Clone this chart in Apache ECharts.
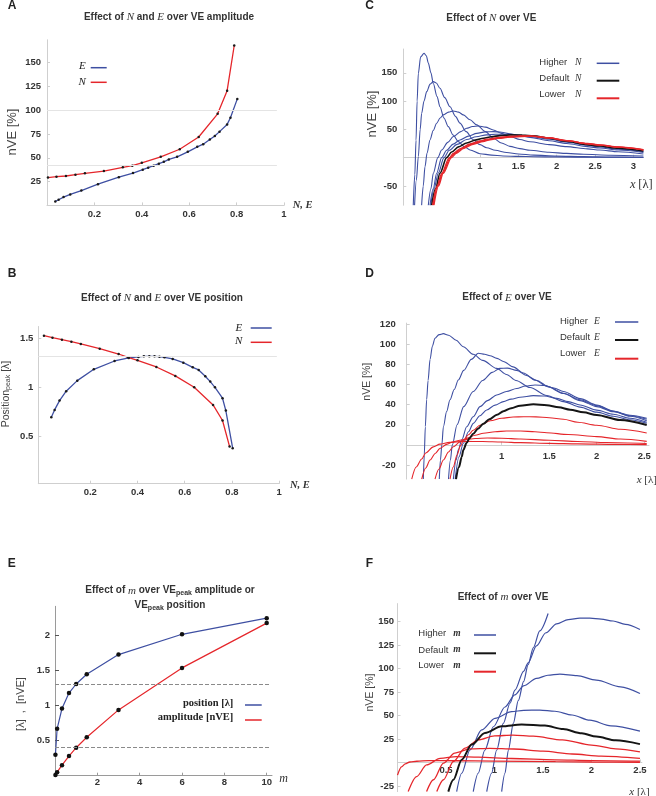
<!DOCTYPE html>
<html><head><meta charset="utf-8">
<script src="https://cdn.jsdelivr.net/npm/echarts@6/dist/echarts.min.js"></script>
<style>html,body{margin:0;padding:0;background:#fff}#c{width:656px;height:796px}</style>
</head><body><div id="c"></div>
<script>
// ===== Panel A / B data (N and E sweeps) =====
const nValues    = [0.004,0.04,0.08,0.12,0.16,0.24,0.32,0.36,0.40,0.48,0.56,0.64,0.72,0.76,0.79];
const nAmplitude = [29.2,30.2,30.9,32.3,33.7,36.1,40,41.7,44.8,51,59,71.9,96.2,120.5,168];
const nPosition  = [1.526,1.506,1.486,1.465,1.442,1.394,1.340,1.306,1.276,1.208,1.117,1.001,0.822,0.663,0.398];
const eValues    = [0.035,0.049,0.07,0.098,0.145,0.215,0.303,0.363,0.404,0.427,0.45,0.472,0.493,0.514,0.549,0.594,0.634,0.659,0.687,0.708,0.728,0.760,0.774,0.803];
const eAmplitude = [4.2,5.9,8.7,11.5,15.6,22.3,29.6,34,37.5,39.6,41.7,43.8,45.8,48.3,51,56.3,61.5,64.3,69.2,72.9,77.5,85.1,92.1,111.9];
const ePosition  = [0.696,0.771,0.866,0.961,1.069,1.184,1.269,1.300,1.310,1.316,1.316,1.316,1.313,1.306,1.290,1.252,1.204,1.178,1.113,1.059,1.001,0.890,0.764,0.381];
const aRefLines  = [100, 41.7];
const bRefLines  = [1.32];

// ===== Panel E data (m sweep) =====
const mValues    = [0.02,0.1,0.33,0.66,1,1.5,3,6,10];
const mPosition  = [0.30,0.67,0.96,1.18,1.31,1.45,1.73,2.02,2.25];
const mAmplitude = [0.01,0.05,0.15,0.28,0.40,0.55,0.94,1.54,2.18];
const eRefLines  = [1.31, 0.40];

// ===== Panel C curves (effect of N) =====
const cHigher = [
 [[0.13,-84],[0.15,-30],[0.166,31],[0.18,100],[0.196,149],[0.226,178],[0.27,184.4],[0.3,180],[0.326,167],[0.36,150],[0.391,131],[0.44,108],[0.478,90],[0.53,70],[0.587,54.8],[0.65,40],[0.717,28.3],[0.8,19],[0.87,13.6],[1.0,7],[1.15,4.5],[1.3,3],[1.5,2.2],[1.7,1.7],[2.0,1.2],[2.5,0.7],[3.13,0.4]],
 [[0.147,-84],[0.17,-40],[0.196,2],[0.22,50],[0.239,78],[0.27,100],[0.305,116.6],[0.35,130],[0.391,134.3],[0.43,132],[0.478,122.6],[0.54,106],[0.609,90],[0.68,73],[0.739,61],[0.82,46],[0.913,31.4],[1.0,23],[1.087,17.5],[1.2,13],[1.348,9],[1.5,6.5],[1.7,4.5],[2.0,2.8],[2.35,1.8],[2.7,1],[3.13,0.6]],
 [[0.239,-84],[0.26,-50],[0.283,-15.9],[0.31,8],[0.348,31.3],[0.39,48],[0.435,60.9],[0.48,70],[0.522,75.6],[0.59,80.5],[0.652,82.5],[0.72,80.5],[0.783,75.6],[0.87,67],[0.957,58],[1.07,46],[1.174,34.4],[1.28,26],[1.39,20],[1.52,16],[1.652,13],[1.9,9.5],[2.13,7.5],[2.35,6],[2.7,4.3],[3.13,3]],
 [[0.326,-84],[0.36,-55],[0.391,-27.6],[0.45,0],[0.5,13.6],[0.58,27],[0.652,37.3],[0.75,46],[0.826,52],[0.9,55],[0.978,56],[1.07,54],[1.174,49],[1.28,43],[1.39,37.3],[1.52,32],[1.652,28],[1.9,23],[2.13,19.5],[2.4,15.5],[2.56,13.5],[2.8,10.5],[3.13,6.5]],
 [[0.348,-84],[0.39,-55],[0.435,-27.6],[0.5,0],[0.565,13],[0.65,24],[0.739,31.3],[0.85,38],[0.957,43],[1.07,45.5],[1.174,46],[1.28,45],[1.39,42],[1.52,39],[1.652,35.9],[1.9,30],[2.13,25],[2.4,19.5],[2.56,17],[2.8,13.5],[3.13,9.4]],
 [[0.358,-84],[0.4,-55],[0.457,-27],[0.53,0],[0.6,13],[0.7,23.5],[0.826,32],[0.95,37],[1.087,40.2],[1.2,41.3],[1.348,41.3],[1.5,40],[1.652,37.5],[1.9,32.5],[2.13,27.5],[2.4,22],[2.56,18.8],[2.8,15],[3.13,10.6]]
];
const cDefault = [[0.37,-84],[0.42,-55],[0.478,-27.6],[0.565,0],[0.63,10],[0.72,19],[0.826,26],[0.95,31.5],[1.043,34.4],[1.15,37],[1.26,39],[1.4,40.2],[1.55,40],[1.7,38.5],[1.9,34.5],[2.13,29],[2.4,23],[2.56,20.5],[2.8,16.5],[3.13,11.8]];
const cLower = [
 [[0.383,-84],[0.44,-50],[0.5,-27.6],[0.6,0],[0.652,7.7],[0.75,16.5],[0.87,24.3],[1.0,29.5],[1.087,32.6],[1.2,35],[1.348,37.3],[1.5,38.3],[1.652,38.4],[1.9,35],[2.13,30],[2.4,24.5],[2.56,22],[2.8,18.5],[3.13,13.6]],
 [[0.39,-84],[0.45,-50],[0.51,-27.6],[0.615,0],[0.67,7.7],[0.77,16.5],[0.89,24],[1.02,29],[1.11,32],[1.22,34.5],[1.37,36.8],[1.52,37.8],[1.67,38],[1.9,35],[2.13,30],[2.4,24.7],[2.56,22.2],[2.8,18.7],[3.13,13.9]],
 [[0.4,-84],[0.46,-50],[0.52,-27.6],[0.63,0],[0.69,7.7],[0.79,16.5],[0.91,23.7],[1.04,28.5],[1.13,31.5],[1.24,34],[1.39,36.3],[1.54,37.3],[1.69,37.6],[1.9,35],[2.13,30.2],[2.4,25],[2.56,22.5],[2.8,19],[3.13,14.2]]
];

// ===== Panel D curves (effect of E) =====
const dHigher = [
 [[0.175,-34],[0.185,-10],[0.196,18],[0.21,45],[0.225,64],[0.246,85],[0.27,98],[0.298,106],[0.34,109.5],[0.386,110.5],[0.44,109],[0.52,104],[0.596,97.5],[0.7,90],[0.8,84],[0.947,76],[1.05,70],[1.15,64],[1.298,57],[1.474,49],[1.649,43],[1.825,37.5],[2.0,32.5],[2.175,28.5],[2.35,25],[2.526,21.5]],
 [[0.343,-34],[0.355,-15],[0.37,0],[0.386,18],[0.42,33],[0.456,44.8],[0.5,55],[0.543,64.4],[0.6,74],[0.68,85],[0.754,91],[0.82,90],[0.877,88.5],[0.95,86],[1.018,82.9],[1.12,77.5],[1.228,71.4],[1.35,64.5],[1.474,58.2],[1.65,51],[1.825,44.9],[2.0,39],[2.175,33.4],[2.35,29.5],[2.526,26.5]],
 [[0.44,-34],[0.46,-15],[0.48,0],[0.53,20],[0.6,38],[0.7,53],[0.8,64],[0.9,72],[0.98,76],[1.06,76.3],[1.158,74],[1.26,69],[1.368,64],[1.5,57.5],[1.649,51.3],[1.825,44],[2.0,38],[2.175,33],[2.35,29],[2.526,25.5]],
 [[0.491,-34],[0.52,-15],[0.543,-5],[0.58,5],[0.631,18],[0.7,28],[0.772,38],[0.85,44],[0.947,49.6],[1.05,53],[1.158,56],[1.25,58.5],[1.35,59.5],[1.45,59],[1.55,56.5],[1.649,53],[1.825,46],[2.0,39.6],[2.175,33.5],[2.35,28.5],[2.526,24]],
 [[0.51,-34],[0.55,-12],[0.596,1.6],[0.65,13],[0.701,21.4],[0.77,29],[0.842,34.7],[0.93,39.5],[1.018,43],[1.1,45.5],[1.193,47.3],[1.333,48.9],[1.45,48.5],[1.58,46.2],[1.7,43],[1.825,39.6],[2.0,34.5],[2.175,30.5],[2.35,26.5],[2.526,22.5]]
];
const dDefault = [[0.519,-34],[0.55,-22],[0.579,-12],[0.596,-5],[0.631,2],[0.66,6.5],[0.7,11],[0.75,16],[0.807,21],[0.87,25.5],[0.95,30],[1.018,33.5],[1.1,36.5],[1.193,39],[1.333,40.3],[1.474,39.5],[1.6,37.3],[1.72,35],[1.86,32.3],[2.0,29.7],[2.246,24.7],[2.526,19.7]];
const dLower = [
 [[0.456,-34],[0.49,-22],[0.53,-10],[0.565,-1],[0.6,5],[0.65,10],[0.7,14.5],[0.77,19.5],[0.88,24],[1.0,26.5],[1.12,27.7],[1.23,28],[1.36,27.8],[1.5,27],[1.65,25.5],[1.8,22.5],[2.0,19.5],[2.25,15.5],[2.526,11.8]],
 [[0.298,-34],[0.34,-24],[0.386,-15],[0.44,-7],[0.491,-1.8],[0.56,3],[0.631,6.5],[0.72,9.5],[0.807,11.5],[0.93,13],[1.05,13.8],[1.2,13.8],[1.35,13],[1.474,12.1],[1.7,10.3],[2.0,8.2],[2.25,5.8],[2.526,3.5]],
 [[0.158,-34],[0.2,-23],[0.246,-15],[0.3,-8.5],[0.351,-3.5],[0.42,0.5],[0.491,3.1],[0.56,4.6],[0.631,5.5],[0.72,6.3],[0.85,6.8],[1.0,6.6],[1.2,5.8],[1.5,4.6],[1.8,3.3],[2.1,2.3],[2.526,1.3]],
 [[0.053,-34],[0.1,-22],[0.158,-14],[0.2,-8],[0.28,-2],[0.35,0.8],[0.45,2.5],[0.6,3.5],[0.8,3.3],[1.0,2.8],[1.2,2.2],[1.5,1.5],[1.8,1],[2.2,0.5],[2.526,0.3]]
];

// ===== Panel F curves (effect of m) =====
const fHigher = [
 [[1.074,-31],[1.108,-11.5],[1.143,13],[1.194,41.6],[1.246,66],[1.30,86],[1.347,104],[1.40,122],[1.467,140],[1.553,158.5]],
 [[0.92,-31],[0.97,-11.5],[1.022,13],[1.091,41.6],[1.16,63],[1.211,77],[1.3,97],[1.347,106],[1.433,124],[1.53,138],[1.64,147.5],[1.76,152],[1.88,153.5],[1.983,153.5],[2.1,152.5],[2.223,150.5],[2.35,147],[2.5,141.5]],
 [[0.781,-31],[0.832,-11.5],[0.9,13],[0.988,38],[1.108,59],[1.21,72],[1.3,81.5],[1.433,89.4],[1.55,92.8],[1.674,94],[1.85,92.3],[2.05,87.6],[2.3,80.5],[2.5,73.4]],
 [[0.61,-31],[0.662,-11.5],[0.747,13.3],[0.868,34.6],[1.005,47],[1.177,54],[1.3,55.5],[1.467,55.7],[1.623,54.5],[1.8,50.5],[1.983,45],[2.2,39],[2.5,33.3]]
];
const fDefault = [[0.524,-31],[0.576,-18.4],[0.662,3],[0.765,19],[0.902,31.4],[1.074,38.5],[1.28,40.3],[1.52,39.2],[1.708,35.5],[1.9,31],[2.05,27.5],[2.25,23.5],[2.5,19.5]];
const fLower = [
 [[0.405,-31],[0.474,-18.4],[0.576,1],[0.696,15.3],[0.834,24],[1.0,28.3],[1.19,29.1],[1.4,28],[1.7,24],[2.0,18.5],[2.25,14.5],[2.5,11.3]],
 [[0.3,-31],[0.37,-18.4],[0.474,-0.7],[0.59,10],[0.747,14.5],[0.952,15],[1.2,14.3],[1.5,12],[1.8,9],[2.1,6.7],[2.5,4.3]],
 [[0.11,-31],[0.197,-15],[0.3,-2.6],[0.44,4.4],[0.61,6.2],[0.834,5.6],[1.177,4.2],[1.623,2.8],[2.0,2],[2.5,1.4]],
 [[0,-13.5],[0.041,-4.6],[0.08,-1.5],[0.127,0.5],[0.2,1.3],[0.318,1.9],[0.6,1.8],[1.0,1.4],[1.63,0.8],[2.0,0.5],[2.5,0.2]]
];

// ===== tick labels =====
const aXTicks=[0.2,0.4,0.6,0.8,1], aYTicks=[25,50,75,100,125,150];
const bXTicks=[0.2,0.4,0.6,0.8,1], bYTicks=[0.5,1,1.5];
const cXTicks=[1,1.5,2,2.5,3],     cYTicks=[-50,50,100,150];
const dXTicks=[1,1.5,2,2.5],       dYTicks=[-20,20,40,60,80,100,120];
const eXTicks=[2,4,6,8,10],        eYTicks=[0.5,1,1.5,2];
const fXTicks=[0.5,1,1.5,2,2.5],   fYTicks=[-25,25,50,75,100,125,150];

// ===== styling / layout =====
const SANS='"Liberation Sans", Arial, sans-serif';
const SERIF='"Liberation Serif", "Times New Roman", serif';
const BLUE='#3e4fa2', RED='#e5262b', BLACK='#151515';
const grids=[
 {left:47,   top:39.8,  width:237,   height:165.6},
 {left:38.3, top:326.5, width:240.9, height:157.2},
 {left:403.3,top:49.0,  width:240.1, height:156.2},
 {left:406.7,top:323.1, width:242.3, height:156},
 {left:55,   top:606.3, width:217,   height:169.4},
 {left:397.5,top:603.6, width:244.4, height:188}
];
const ranges=[
 {x:[0,1],y:[0,174],xm:3.5,ym:6},
 {x:[-0.02,1],y:[0.02,1.62],xm:3.5,ym:5},
 {x:[0,3.13],y:[-84,192],xm:3.5,ym:6},
 {x:[0,2.55],y:[-34,121],xm:6,ym:11},
 {x:[0,10.25],y:[0,2.42],xm:2,ym:5},
 {x:[0,2.52],y:[-31,169],xm:3,ym:3.5}
];
const xt=[aXTicks,bXTicks,cXTicks,dXTicks,eXTicks,fXTicks];
const yt=[aYTicks,bYTicks,cYTicks,dYTicks,eYTicks,fYTicks];
const axisCol=(i)=> i===4 ? '#9a9a9a' : '#cfcfcf';
const lab=(m,vals)=>({customValues:vals,margin:m,fontSize:9.5,fontWeight:'bold',color:'#333',fontFamily:SANS});
// x axis sits on y = 0 when the y range is negative at the bottom
const xAxes=ranges.map((r,i)=>{
  const off = r.y[0] < 0 ? -grids[i].height * (0 - r.y[0]) / (r.y[1] - r.y[0]) : 0;
  return {type:'value',gridIndex:i,min:r.x[0],max:r.x[1],position:'bottom',offset:off,
  axisLine:{show:true,onZero:false,lineStyle:{color:axisCol(i),width:1}},
  axisTick:{show:true,inside:true,length:3,customValues:xt[i],lineStyle:{color:axisCol(i)}},
  axisLabel:lab(r.xm,xt[i]),splitLine:{show:false}};
});
const yAxes=ranges.map((r,i)=>({type:'value',gridIndex:i,min:r.y[0],max:r.y[1],position:'left',
  axisLine:{show:true,onZero:false,lineStyle:{color:axisCol(i),width:1}},
  axisTick:{show:true,inside:true,length:i===4?4:3,customValues:yt[i],lineStyle:{color:i===4?'#555':axisCol(i)}},
  axisLabel:lab(r.ym,yt[i]),splitLine:{show:false}}));

function curve(gi,data,color,width,extra){
  return Object.assign({type:'line',xAxisIndex:gi,yAxisIndex:gi,data:data,showSymbol:false,symbol:'none',
    smooth:0.3,smoothMonotone:'x',lineStyle:{color:color,width:width},itemStyle:{color:color},silent:true,clip:true,z:2},extra||{});
}
function pts(gi,xs,ys,color,size,extra){
  return Object.assign({type:'line',xAxisIndex:gi,yAxisIndex:gi,data:xs.map((v,k)=>[v,ys[k]]),
    showSymbol:true,showAllSymbol:true,symbol:'circle',symbolSize:size,smooth:false,
    lineStyle:{color:color,width:1.3},itemStyle:{color:'#1a1a1a'},silent:true,z:3},extra||{});
}
function refSeries(gi,vals,x0,x1,col,type){
  return {type:'line',xAxisIndex:gi,yAxisIndex:gi,data:[],z:1,silent:true,
    markLine:{silent:true,symbol:'none',label:{show:false},lineStyle:{color:col,width:1,type:type},
      data:vals.map(v=>[{coord:[x0,v]},{coord:[x1,v]}])}};
}

const series=[];
series.push(refSeries(0,aRefLines,0,0.97,'#e4e4e4','solid'));
series.push(refSeries(1,bRefLines,-0.02,0.99,'#e4e4e4','solid'));
series.push(refSeries(4,eRefLines,0,10.2,'#8a8a8a','dashed'));
series.push(pts(0,eValues,eAmplitude,BLUE,2.5));
series.push(pts(0,nValues,nAmplitude,RED,2.5));
series.push(pts(1,eValues,ePosition,BLUE,2.5));
series.push(pts(1,nValues,nPosition,RED,2.5));
cHigher.forEach(d=>series.push(curve(2,d,BLUE,1.1)));
series.push(curve(2,cDefault,BLACK,1.6));
cLower.forEach(d=>series.push(curve(2,d,RED,1.3)));
dHigher.forEach(d=>series.push(curve(3,d,BLUE,1.1)));
dLower.forEach(d=>series.push(curve(3,d,RED,1.1)));
series.push(curve(3,dDefault,BLACK,2));
series.push(pts(4,mValues,mPosition,BLUE,4.5,{lineStyle:{color:BLUE,width:1.2},itemStyle:{color:'#111'}}));
series.push(pts(4,mValues,mAmplitude,RED,4.5,{lineStyle:{color:RED,width:1.2},itemStyle:{color:'#111'}}));
fHigher.forEach(d=>series.push(curve(5,d,BLUE,1.2)));
fLower.forEach(d=>series.push(curve(5,d,RED,1.3)));
series.push(curve(5,fDefault,BLACK,2));

// ===== text / legend graphics =====
function T(x,y,text,o){
  o=o||{};
  return {type:'text',x:x,y:y,rotation:o.rot||0,silent:true,z:10,
    style:{text:text,fill:o.fill||'#333',font:o.font||('bold 10px '+SANS),
      align:o.align||'left',textAlign:o.align||'left',verticalAlign:'middle',textVerticalAlign:'middle',rich:o.rich}};
}
function L(x1,x2,y,col,w){
  return {type:'line',silent:true,z:10,shape:{x1:x1,y1:y,x2:x2,y2:y},style:{stroke:col,lineWidth:w}};
}
const titleRich={b:{fontFamily:SANS,fontWeight:'bold',fontSize:10,fill:'#333'},
  i:{fontFamily:SERIF,fontStyle:'italic',fontSize:11,fill:'#333'},
  s:{fontFamily:SANS,fontWeight:'bold',fontSize:7,fill:'#333',verticalAlign:'bottom',padding:[5,0,0,0]}};
const g=[];
[['A',12,6],['C',369.7,6],['B',12,273.3],['D',369.5,273.3],['E',11.7,564],['F',369.3,564]]
  .forEach(p=>g.push(T(p[1],p[2],p[0],{font:'bold 12px '+SANS,fill:'#222',align:'center'})));
g.push(T(169,17.3,'{b|Effect of }{i|N}{b| and }{i|E}{b| over VE amplitude}',{align:'center',rich:titleRich}));
g.push(T(162,298.3,'{b|Effect of }{i|N}{b| and }{i|E}{b| over VE position}',{align:'center',rich:titleRich}));
g.push(T(491.3,18.3,'{b|Effect of }{i|N}{b| over VE}',{align:'center',rich:titleRich}));
g.push(T(507,297.7,'{b|Effect of }{i|E}{b| over VE}',{align:'center',rich:titleRich}));
g.push(T(170,590.7,'{b|Effect of }{i|m}{b| over VE}{s|peak}{b| amplitude or}',{align:'center',rich:titleRich}));
g.push(T(170,605.7,'{b|VE}{s|peak}{b| position}',{align:'center',rich:titleRich}));
g.push(T(503,597.3,'{b|Effect of }{i|m}{b| over VE}',{align:'center',rich:titleRich}));
const R90=Math.PI/2;
g.push(T(12,132,'nVE [%]',{rot:R90,align:'center',font:'13px '+SANS,fill:'#444'}));
g.push(T(372,114,'nVE [%]',{rot:R90,align:'center',font:'13px '+SANS,fill:'#444'}));
g.push(T(366.7,381.7,'nVE [%]',{rot:R90,align:'center',font:'10.5px '+SANS,fill:'#444'}));
g.push(T(370.5,692.5,'nVE [%]',{rot:R90,align:'center',font:'10.5px '+SANS,fill:'#444'}));
g.push(T(6,394,'{n|Position}{s|peak}{n| [λ]}',{rot:R90,align:'center',rich:{
  n:{fontFamily:SANS,fontSize:10.5,fill:'#444'},s:{fontFamily:SANS,fontSize:7,fill:'#444',verticalAlign:'bottom',padding:[5,0,0,0]}}}));
g.push(T(20.5,704,'[λ]  ,  [nVE]',{rot:R90,align:'center',font:'11px '+SANS,fill:'#444'}));
const xnRich={i:{fontFamily:SERIF,fontStyle:'italic',fontSize:11,fill:'#333'},n:{fontFamily:SERIF,fontSize:11,fill:'#333'}};
g.push(T(292.7,205,'N, E',{font:'italic bold 10.5px '+SERIF}));
g.push(T(290,485,'N, E',{font:'italic bold 10.5px '+SERIF}));
g.push(T(630,185,'{i|x} {n|[λ]}',{rich:{i:{fontFamily:SERIF,fontStyle:'italic',fontSize:12.5,fill:'#333'},n:{fontFamily:SERIF,fontSize:12.5,fill:'#333'}}}));
g.push(T(636.7,479.7,'{i|x} {n|[λ]}',{rich:xnRich}));
g.push(T(629.3,792,'{i|x} {n|[λ]}',{rich:xnRich}));
g.push(T(279.3,779,'m',{font:'italic 12px '+SERIF}));
g.push(T(79,66.3,'E',{font:'italic 11px '+SERIF,fill:'#222'})); g.push(L(90.7,106.7,67.7,BLUE,1.5));
g.push(T(78.5,81.7,'N',{font:'italic 11px '+SERIF,fill:'#222'})); g.push(L(90.7,106.7,82.3,RED,1.5));
g.push(T(235.5,327.7,'E',{font:'italic 11px '+SERIF,fill:'#222'})); g.push(L(250.7,271.7,328,BLUE,1.5));
g.push(T(235,340.7,'N',{font:'italic 11px '+SERIF,fill:'#222'})); g.push(L(250.7,271.7,342.3,RED,1.5));
function famLegend(x,xl,ys,lineX1,lineX2,lys,letter,lf){
  const names=['Higher','Default','Lower'], cols=[BLUE,BLACK,RED], ws=[1.5,2,2];
  names.forEach((nm,k)=>{
    g.push(T(x,ys[k],nm,{font:'9.5px '+SANS,fill:'#333'}));
    g.push(T(xl,ys[k],letter,{font:lf,fill:'#333'}));
    g.push(L(lineX1,lineX2,lys[k],cols[k],ws[k]));
  });
}
famLegend(539.3,575,[62.3,78.7,94.3],596.7,619.3,[63.3,80.7,98.3],'N','italic 9.5px '+SERIF);
famLegend(560,594,[321,337,353],615,638.3,[322,340,358.7],'E','italic 9.5px '+SERIF);
famLegend(418.3,453.3,[633.3,650,665.7],474,496,[635,653.3,671.7],'m','italic bold 9.5px '+SERIF);
g.push(T(233.3,703.3,'position [λ]',{align:'right',font:'bold 10.5px '+SERIF,fill:'#222'})); g.push(L(245,261.7,705,BLUE,1.5));
g.push(T(233.3,717.3,'amplitude [nVE]',{align:'right',font:'bold 10.5px '+SERIF,fill:'#222'})); g.push(L(245,261.7,720,RED,1.5));

const chart=echarts.init(document.getElementById('c'),null,{renderer:'canvas',width:656,height:796});
chart.setOption({
  animation:false,
  backgroundColor:'#fff',
  grid:grids.map(gr=>Object.assign({containLabel:false,outerBoundsMode:'none'},gr)),
  xAxis:xAxes, yAxis:yAxes, series:series, graphic:{elements:g}
});
</script></body></html>
